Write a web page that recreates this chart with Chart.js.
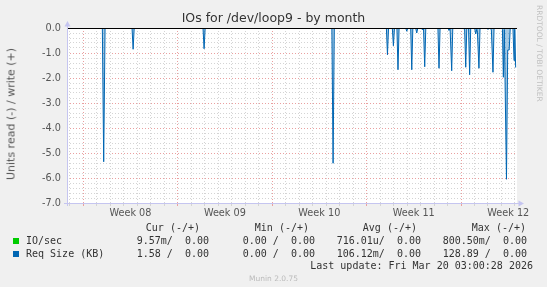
<!DOCTYPE html>
<html><head><meta charset="utf-8">
<script src="https://cdn.jsdelivr.net/npm/chart.js@4/dist/chart.umd.min.js"></script>
<style>
html,body{margin:0;padding:0;background:#f0f0f0;}
#wrap{position:relative;width:547px;height:287px;overflow:hidden;background:#f0f0f0;}
canvas{position:absolute;left:0;top:0;}
.t{position:absolute;white-space:pre;font-family:"DejaVu Sans";color:#333;line-height:1;}
.m{position:absolute;white-space:pre;font-family:"DejaVu Sans Mono";font-size:10px;color:#333;line-height:1;}
.sq{position:absolute;width:6px;height:6px;}
</style></head><body>
<div id="wrap">
<canvas id="c" width="547" height="287"></canvas>
<div class="t" style="left:0;width:547px;text-align:center;top:12px;font-size:12.5px;">IOs for /dev/loop9 - by month</div>
<div class="t" style="left:11px;top:114px;font-size:11px;color:#555;transform:translate(-50%,-50%) rotate(-90deg);">Units read (-) / write (+)</div>
<div class="t" style="left:535px;top:5px;font-size:7.5px;color:#c0c0c0;writing-mode:vertical-rl;">RRDTOOL / TOBI OETIKER</div>

<div class="m" style="right:347px;top:223px;">Cur (-/+)</div>
<div class="m" style="right:238px;top:223px;">Min (-/+)</div>
<div class="m" style="right:130px;top:223px;">Avg (-/+)</div>
<div class="m" style="right:21px;top:223px;">Max (-/+)</div>

<div class="sq" style="left:13px;top:238px;background:#00cc00;"></div>
<div class="m" style="left:26px;top:236px;">IO/sec</div>
<div class="m" style="right:338px;top:236px;">9.57m/  0.00</div>
<div class="m" style="right:232px;top:236px;">0.00 /  0.00</div>
<div class="m" style="right:126px;top:236px;">716.01u/  0.00</div>
<div class="m" style="right:20px;top:236px;">800.50m/  0.00</div>

<div class="sq" style="left:13px;top:251px;background:#0066b3;"></div>
<div class="m" style="left:26px;top:249px;">Req Size (KB)</div>
<div class="m" style="right:338px;top:249px;">1.58 /  0.00</div>
<div class="m" style="right:232px;top:249px;">0.00 /  0.00</div>
<div class="m" style="right:126px;top:249px;">106.12m/  0.00</div>
<div class="m" style="right:20px;top:249px;">128.89 /  0.00</div>

<div class="m" style="right:14px;top:261px;">Last update: Fri Mar 20 03:00:28 2026</div>
<div class="t" style="left:0;width:547px;text-align:center;top:275px;font-size:7.5px;color:#bbb;">Munin 2.0.75</div>
</div>
<script>
// x values are days counted from the start of Week 08 (Monday 00:00)
const weekLabels = ['Week 08', 'Week 09', 'Week 10', 'Week 11', 'Week 12'];
const weekCenters = [3.5, 10.5, 17.5, 24.5, 31.5];
const dayTicks = [-1,0,1,2,3,4,5,6,7,8,9,10,11,12,13,14,15,16,17,18,19,20,21,22,23,24,25,26,27,28,29,30,31,32];
const yTickLabels = ['0.0','-1.0','-2.0','-3.0','-4.0','-5.0','-6.0','-7.0'];

const ioTimes  = [-1.2, 32.05];
const ioValues = [0, 0];

const readTimes = [
  -1.2,
  1.42, 1.52, 1.62,
  3.62, 3.70, 3.78,
  8.88, 8.96, 9.04,
  18.43, 18.52, 18.61,
  22.47, 22.55, 22.63,
  22.91, 22.99, 23.07,
  23.25, 23.33, 23.41,
  23.90, 23.98, 24.06,
  24.27, 24.35, 24.43,
  24.64, 24.72, 24.80,
  25.06, 25.14, 25.22, 25.31, 25.39,
  26.29, 26.37, 26.45,
  27.03, 27.11, 27.19, 27.23, 27.31, 27.39,
  28.19, 28.27, 28.35, 28.43, 28.56, 28.64, 28.72,
  29.01, 29.09, 29.17, 29.21, 29.33, 29.41,
  29.92, 30.00, 30.08,
  30.17, 30.25, 30.37, 30.45,
  30.99, 31.07, 31.14, 31.21, 31.37, 31.46, 31.57, 31.65,
  31.85, 31.93, 31.98, 32.05
];
const readValues = [
  0,
  0, -5.35, 0,
  0, -0.85, 0,
  0, -0.83, 0,
  0, -5.41, 0,
  0, -1.07, 0,
  0, -0.71, 0,
  0, -1.67, 0,
  0, -0.13, 0,
  0, -1.67, 0,
  0, -0.20, 0,
  0, -0.07, 0, -1.55, 0,
  0, -1.61, 0,
  0, -0.10, 0, 0, -1.71, 0,
  0, -0.08, -1.57, 0, 0, -1.87, 0,
  0, -0.24, -0.05, -0.10, -1.61, 0,
  0, -0.06, 0,
  0, -0.08, -1.77, 0,
  0, -0.05, -1.97, -0.06, -6.05, -0.88, -0.88, 0,
  0, -1.30, -0.05, -1.58
];

const isInt = v => Math.abs(v - Math.round(v)) < 1e-6;
const yGrid = [];
for (let k = 0; k <= 35; k++) yGrid.push(-k * 0.2);

const deco = {
  id: 'deco',
  beforeDraw(chart) {
    const {ctx, chartArea: a} = chart;
    ctx.save();
    ctx.fillStyle = '#ffffff';
    ctx.fillRect(a.left, a.top, a.right - a.left, a.bottom - a.top);
    ctx.restore();
  },
  afterDatasetsDraw(chart) {
    const {ctx, chartArea: a, scales: {x, y}} = chart;
    ctx.save();
    const y0 = Math.round(y.getPixelForValue(0)) + 0.5;
    ctx.strokeStyle = '#000'; ctx.lineWidth = 1;
    ctx.beginPath(); ctx.moveTo(a.left, y0); ctx.lineTo(a.right, y0); ctx.stroke();
    ctx.strokeStyle = '#c5c5f0'; ctx.fillStyle = '#c5c5f0';
    const xl = Math.round(a.left) + 0.5, yb = Math.round(a.bottom) + 0.5;
    ctx.beginPath(); ctx.moveTo(xl, a.bottom + 3); ctx.lineTo(xl, a.top - 3); ctx.stroke();
    ctx.beginPath(); ctx.moveTo(xl, a.top - 7); ctx.lineTo(xl - 3, a.top - 1.5); ctx.lineTo(xl + 3, a.top - 1.5); ctx.closePath(); ctx.fill();
    ctx.beginPath(); ctx.moveTo(a.left - 3, yb); ctx.lineTo(a.right + 2, yb); ctx.stroke();
    ctx.beginPath(); ctx.moveTo(a.right + 7, yb); ctx.lineTo(a.right + 1.5, yb - 3); ctx.lineTo(a.right + 1.5, yb + 3); ctx.closePath(); ctx.fill();
    ctx.fillStyle = '#555'; ctx.font = '9.7px "DejaVu Sans"';
    ctx.textAlign = 'center'; ctx.textBaseline = 'middle';
    weekCenters.forEach((d, i) => ctx.fillText(weekLabels[i], x.getPixelForValue(d), a.bottom + 10.5));
    ctx.restore();
  }
};

new Chart(document.getElementById('c'), {
  type: 'line',
  data: {
    datasets: [
      {label: 'IO/sec', data: ioTimes.map((t, i) => ({x: t, y: ioValues[i]})),
       borderColor: '#00cc00', borderWidth: 1, pointRadius: 0, fill: false},
      {label: 'Req Size (KB)', data: readTimes.map((t, i) => ({x: t, y: readValues[i]})),
       borderColor: '#0066b3', backgroundColor: 'rgba(0,102,179,0.35)', borderWidth: 1,
       pointRadius: 0, fill: 'origin', tension: 0}
    ]
  },
  options: {
    responsive: false, animation: false, devicePixelRatio: 1,
    layout: {padding: {left: 0, right: 30, top: 28, bottom: 84}},
    plugins: {legend: {display: false}, tooltip: {enabled: false}},
    scales: {
      x: {
        type: 'linear', min: -1.2, max: 32.15,
        afterBuildTicks: s => { s.ticks = dayTicks.map(v => ({value: v})); },
        afterFit: s => { s.height = 0; },
        ticks: {display: false},
        border: {display: false, dash: [1, 2]},
        grid: {color: c => (c.tick && c.tick.value % 7 === 0) ? '#eaa0a0' : '#d4d4d4',
               drawTicks: true, tickLength: 3, lineWidth: 1}
      },
      y: {
        min: -7, max: 0,
        afterBuildTicks: s => { s.ticks = yGrid.map(v => ({value: v})); },
        afterFit: s => { s.width = 67; },
        ticks: {autoSkip: false, padding: 6, color: '#555', font: {family: 'DejaVu Sans', size: 9.7},
                callback: v => isInt(v) ? yTickLabels[Math.round(-v)] : ''},
        border: {display: false, dash: [1, 2]},
        grid: {color: c => (c.tick && isInt(c.tick.value)) ? '#eaa0a0' : '#d4d4d4', drawTicks: false, lineWidth: 1}
      }
    }
  },
  plugins: [deco]
});
</script>
</body></html>
